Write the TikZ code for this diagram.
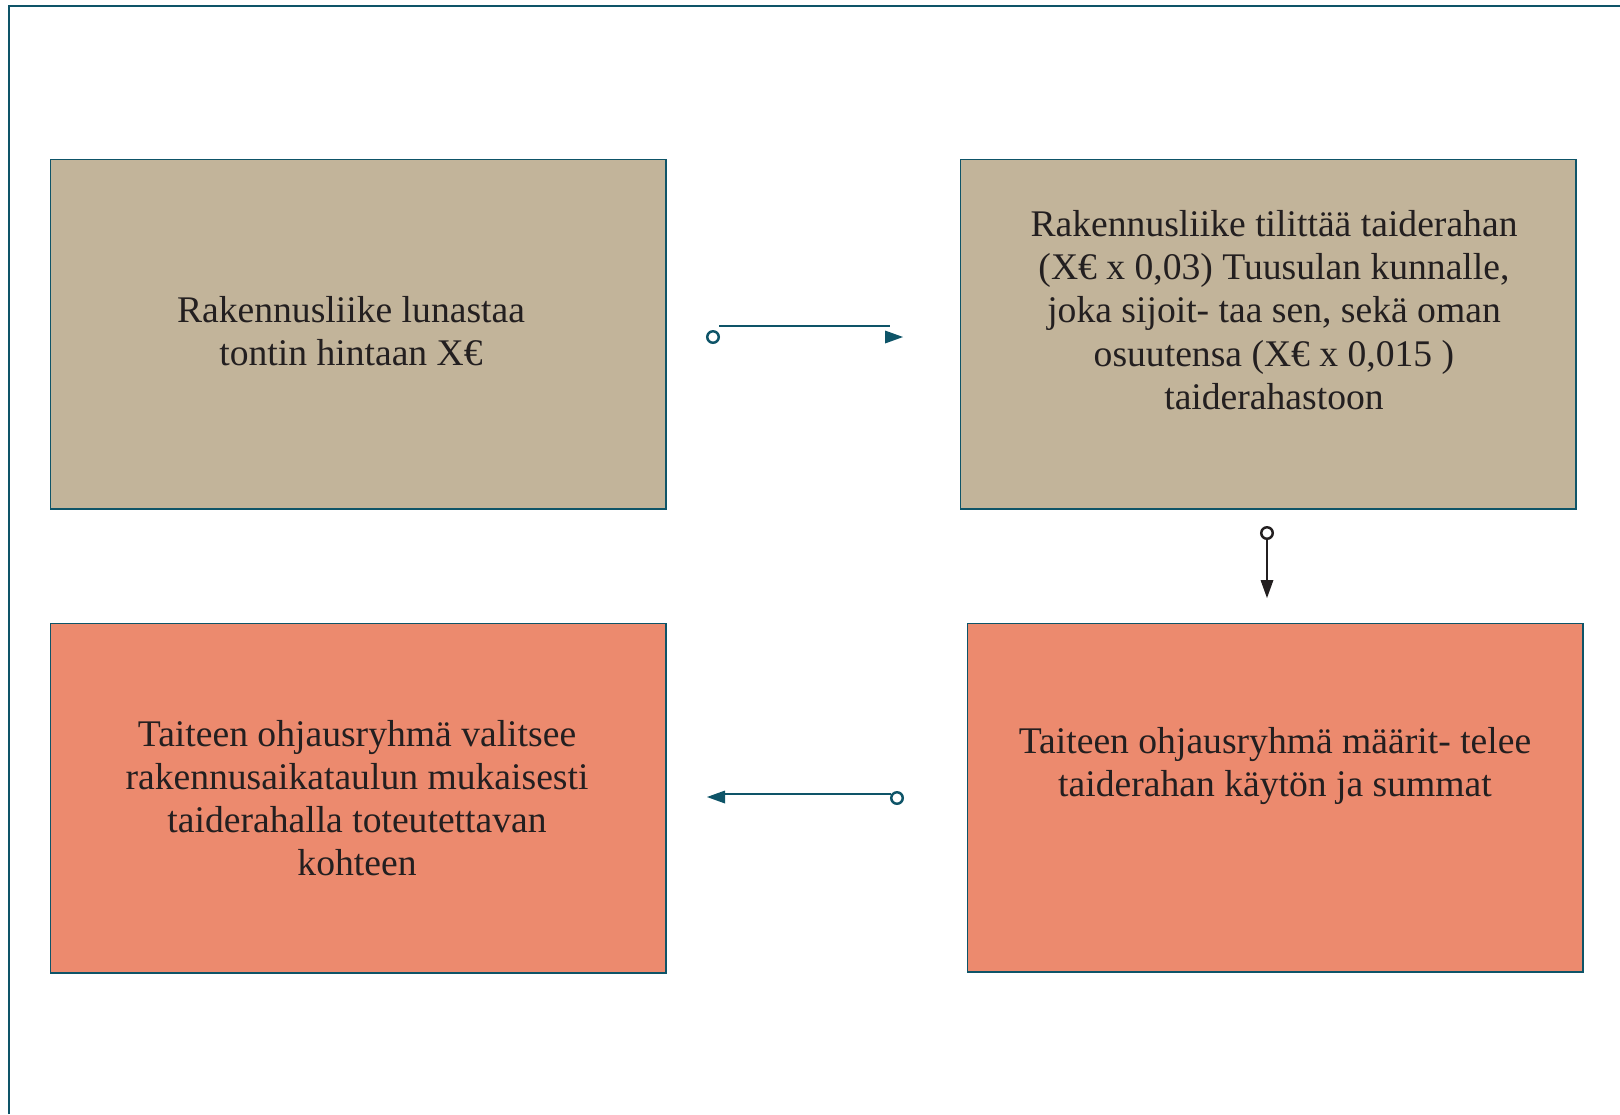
\documentclass[tikz,border=0pt]{standalone}
\usepackage{fontspec}
\setmainfont{Liberation Serif}
\definecolor{myteal}{RGB}{14,84,104}
\definecolor{tanfill}{RGB}{194,180,154}
\definecolor{salmonfill}{RGB}{236,138,110}
\definecolor{inkcol}{RGB}{35,31,32}
\tikzset{
  box/.style={draw=myteal, line width=0.4pt, anchor=north west, minimum width=6.15cm, minimum height=3.49cm, inner sep=0pt},
  boxtext/.style={align=center, text=inkcol, font=\fontsize{10.7pt}{12.27pt}\selectfont, inner sep=0pt},
  ring/.style={circle, draw=#1, line width=0.7pt, fill=white, minimum size=0.115cm, inner sep=0pt},
  conn/.style={draw=#1, line width=0.6pt}
}
\begin{document}
\begin{tikzpicture}[x=0.01cm,y=-0.01cm]
\useasboundingbox (0,0) rectangle (1620,1114);
\draw[myteal, line width=0.6pt] (9,1114) -- (9,6) -- (1620,6);

\node[box, fill=tanfill] (b1) at (50,159) {};
\node[box, fill=tanfill] (b2) at (960,159) {};
\node[box, fill=salmonfill] (b3) at (50,623) {};
\node[box, fill=salmonfill, minimum height=3.48cm] (b4) at (967,623) {};

\node[boxtext] (t1) at (351,331) {Rakennusliike lunastaa\\tontin hintaan X€};
\node[boxtext] (t2) at (1274,310) {Rakennusliike tilittää taiderahan\\(X€ x 0,03) Tuusulan kunnalle,\\joka sijoit- taa sen, sekä oman\\osuutensa (X€ x 0,015 )\\taiderahastoon};
\node[boxtext] (t3) at (357,798) {Taiteen ohjausryhmä valitsee\\rakennusaikataulun mukaisesti\\taiderahalla toteutettavan\\kohteen};
\node[boxtext] (t4) at (1275,766) {Taiteen ohjausryhmä määrit- telee\\taiderahan käytön ja summat};

% connector 1 (right)
\coordinate (c1a) at (719,326);
\coordinate (c1b) at (890,326);
\node[ring=myteal] (r1) at (713,337) {};
\coordinate (h1) at (903,337);
\draw[conn=myteal] (c1a) -- (c1b);
\fill[myteal] (h1) -- ++(-18,-6.5) -- ++(0,13) -- cycle;

% connector 2 (down)
\node[ring=inkcol] (r2) at (1267,533) {};
\coordinate (h2) at (1267,598);
\draw[conn=inkcol] (r2.south) -- (1267,585);
\fill[inkcol] (h2) -- ++(-6.5,-18) -- ++(13,0) -- cycle;

% connector 3 (left)
\node[ring=myteal] (r3) at (897,798) {};
\coordinate (h3) at (707,797);
\coordinate (c3a) at (891,794);
\coordinate (c3b) at (720,794);
\draw[conn=myteal] (c3a) -- (c3b);
\fill[myteal] (h3) -- ++(18,-6.5) -- ++(0,13) -- cycle;
\end{tikzpicture}
\end{document}
